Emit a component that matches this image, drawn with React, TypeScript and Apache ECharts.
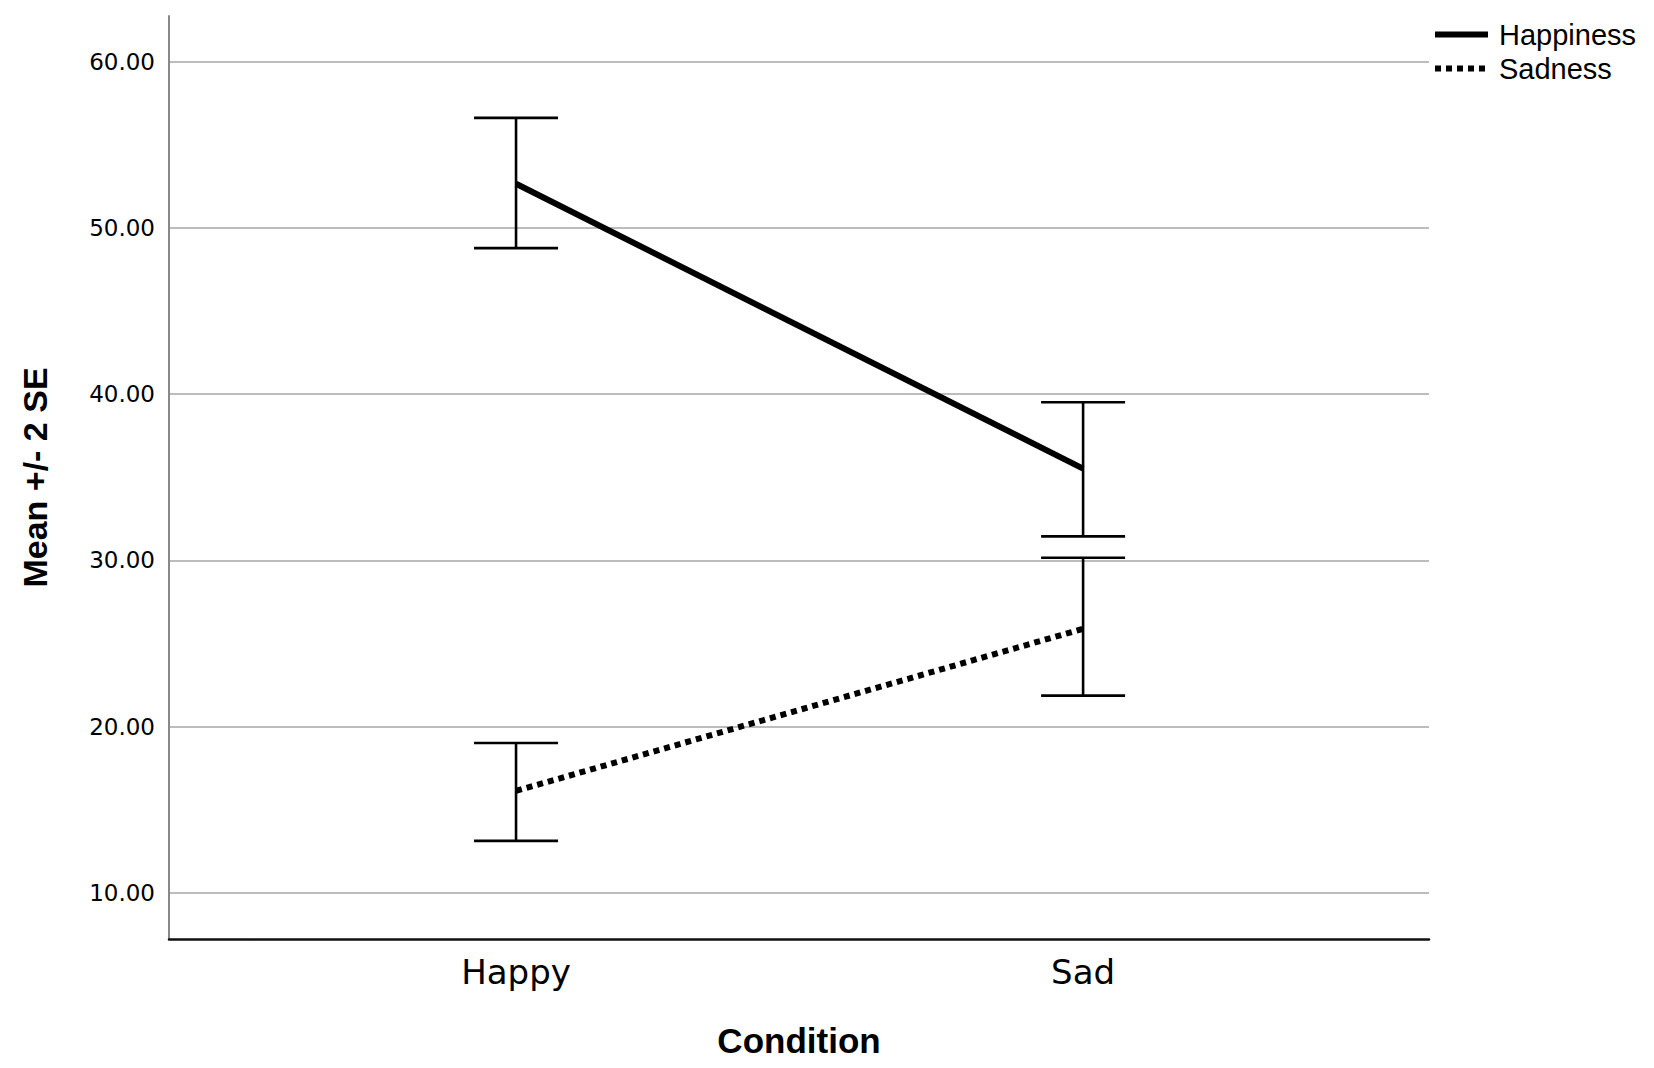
import React, { useEffect, useRef } from "react";
import * as echarts from "echarts";

const categories = ["Happy", "Sad"];
const categoryPositions = [0, 1];
const yTickValues = [10, 20, 30, 40, 50, 60];

const happinessMean = [52.66, 35.52];
const happinessLow = [48.79, 31.45];
const happinessHigh = [56.62, 39.52];

const sadnessMean = [16.14, 25.89];
const sadnessLow = [13.13, 21.87];
const sadnessHigh = [19.02, 30.16];

export default function App() {
  const ref = useRef<HTMLDivElement>(null);

  useEffect(() => {
    if (!ref.current) return;
    const chart = echarts.init(ref.current, null, { renderer: "svg" });

    const errData: number[][] = [];
    categoryPositions.forEach((x, i) => {
      errData.push([x, happinessLow[i], happinessHigh[i]]);
      errData.push([x, sadnessLow[i], sadnessHigh[i]]);
    });

    const option: any = {
      animation: false,
      backgroundColor: "#ffffff",
      grid: { left: 169, right: 225, top: 16, bottom: 129, containLabel: false },
      legend: {
        data: [
          {
            name: "Happiness",
            itemStyle: { opacity: 0 },
            lineStyle: { color: "#000", width: 6, type: "solid", opacity: 1 },
          },
          {
            name: "Sadness",
            itemStyle: { opacity: 0 },
            lineStyle: { color: "#000", width: 6, type: [6, 5], cap: "butt", opacity: 1 },
          },
        ],
        orient: "vertical",
        left: 1427,
        top: 15,
        itemWidth: 53,
        itemHeight: 29,
        itemGap: 5,
        textStyle: {
          fontFamily: "Liberation Sans",
          fontSize: 29,
          color: "#000",
          padding: [0, 0, 0, 6],
        },
      },
      xAxis: {
        type: "value",
        min: -0.612,
        max: 1.61,
        name: "Condition",
        nameLocation: "middle",
        nameGap: 84,
        nameTextStyle: {
          fontFamily: "Liberation Sans",
          fontWeight: "bold",
          fontSize: 35,
          color: "#000",
        },
        axisLine: { show: true, onZero: false, lineStyle: { color: "#111", width: 2.5 } },
        axisTick: { show: false, customValues: categoryPositions },
        splitLine: { show: false },
        axisLabel: {
          customValues: categoryPositions,
          formatter: (v: number) => categories[Math.round(v)] ?? "",
          fontFamily: "DejaVu Sans",
          fontSize: 34,
          color: "#000",
          margin: 16,
        },
      },
      yAxis: {
        type: "value",
        min: 7.23,
        max: 62.75,
        name: "Mean +/- 2 SE",
        nameLocation: "middle",
        nameGap: 117,
        nameTextStyle: {
          fontFamily: "Liberation Sans",
          fontWeight: "bold",
          fontSize: 34,
          color: "#000",
        },
        axisLine: { show: true, onZero: false, lineStyle: { color: "#888", width: 2 } },
        axisTick: { show: false, customValues: yTickValues },
        splitLine: { show: true, lineStyle: { color: "#bcbcbc", width: 2 } },
        axisLabel: {
          customValues: yTickValues,
          formatter: (v: number) => v.toFixed(2),
          fontFamily: "DejaVu Sans",
          fontSize: 23,
          color: "#000",
          margin: 14,
        },
      },
      series: [
        {
          name: "errorbars",
          type: "custom",
          data: errData,
          z: 2,
          renderItem: (params: any, api: any) => {
            const x = api.value(0);
            const lo = api.coord([x, api.value(1)]);
            const hi = api.coord([x, api.value(2)]);
            const hw = 42;
            const style = { stroke: "#000", lineWidth: 2.6, fill: "none" };
            return {
              type: "group",
              children: [
                { type: "line", shape: { x1: lo[0], y1: lo[1], x2: hi[0], y2: hi[1] }, style },
                { type: "line", shape: { x1: lo[0] - hw, y1: lo[1], x2: lo[0] + hw, y2: lo[1] }, style },
                { type: "line", shape: { x1: hi[0] - hw, y1: hi[1], x2: hi[0] + hw, y2: hi[1] }, style },
              ],
            };
          },
        },
        {
          name: "Happiness",
          type: "line",
          z: 3,
          symbol: "none",
          showSymbol: false,
          data: categoryPositions.map((x, i) => [x, happinessMean[i]]),
          lineStyle: { color: "#000", width: 6, type: "solid" },
          itemStyle: { color: "#000" },
        },
        {
          name: "Sadness",
          type: "line",
          z: 3,
          symbol: "none",
          showSymbol: false,
          data: categoryPositions.map((x, i) => [x, sadnessMean[i]]),
          lineStyle: { color: "#000", width: 6, type: [6, 5], cap: "butt" },
          itemStyle: { color: "#000" },
        },
      ],
    };

    chart.setOption(option);
    return () => chart.dispose();
  }, []);

  return (
    <div
      ref={ref}
      style={{ position: "absolute", left: 0, top: 0, width: 1654, height: 1068 }}
    />
  );
}
